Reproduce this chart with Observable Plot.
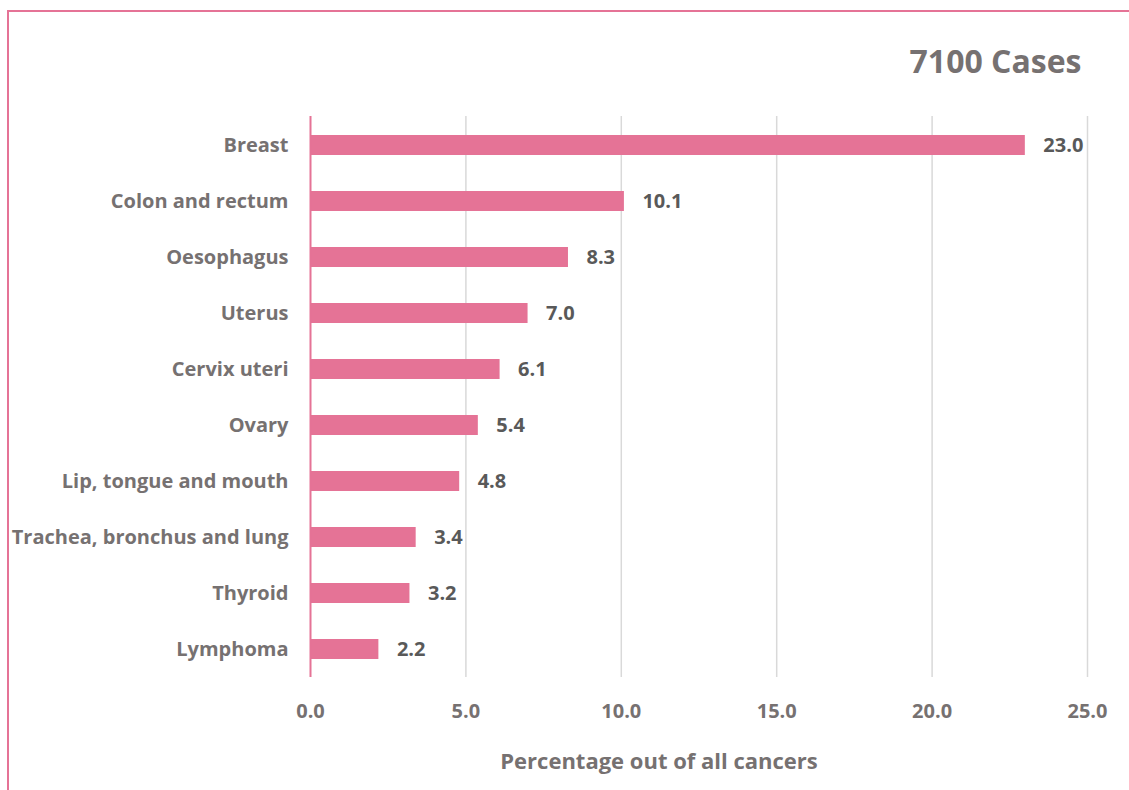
<!DOCTYPE html>
<html>
<head>
<meta charset="utf-8">
<script src="https://cdn.jsdelivr.net/npm/d3@7"></script>
<script src="https://cdn.jsdelivr.net/npm/@observablehq/plot@0.6"></script>
<style>
  html, body { margin: 0; padding: 0; background: #fff; }
  #wrap { position: relative; width: 1129px; height: 790px; overflow: hidden; }
  #frame { position: absolute; left: 7px; top: 10px; right: -10px; bottom: -10px;
           border-top: 2px solid #E57396; border-left: 2px solid #E57396; pointer-events: none; }
  #chart { position: absolute; left: 0; top: 0; }
</style>
</head>
<body>
<div id="wrap"><div id="chart"></div><div id="frame"></div></div>
<script>
const categories = ["Breast", "Colon and rectum", "Oesophagus", "Uterus", "Cervix uteri", "Ovary",
  "Lip, tongue and mouth", "Trachea, bronchus and lung", "Thyroid", "Lymphoma"];
const values = [23.0, 10.1, 8.3, 7.0, 6.1, 5.4, 4.8, 3.4, 3.2, 2.2];
const xTicks = [0, 5, 10, 15, 20, 25];
const titleText = "7100 Cases";
const xLabel = "Percentage out of all cancers";

const data = categories.map((c, i) => ({category: c, value: values[i]}));
const font = "'Open Sans', Lato, sans-serif";
const pink = "#E57396";

const chart = Plot.plot({
  width: 1129,
  height: 790,
  marginLeft: 310,
  marginRight: 42,
  marginTop: 116,
  marginBottom: 113,
  style: {fontFamily: font, background: "transparent"},
  x: {domain: [0, 25], ticks: xTicks},
  y: {domain: categories, paddingInner: 0.65, paddingOuter: 0.325},
  marks: [
    Plot.ruleX(xTicks.filter(d => d > 0), {stroke: "#D9D9D9", strokeWidth: 1.5}),
    Plot.barX(data, {x: "value", y: "category", fill: pink}),
    Plot.ruleX([0], {stroke: pink, strokeWidth: 2}),
    Plot.text(data, {x: "value", y: "category", text: d => d.value.toFixed(1), textAnchor: "start",
      dx: 18, fill: "#595959", fontSize: 20, fontWeight: "bold"}),
    Plot.axisY({tickSize: 0, tickPadding: 22, fontSize: 20, fontWeight: "bold", color: "#767171", label: null}),
    Plot.axisX({ticks: xTicks, tickSize: 0, tickPadding: 26, fontSize: 20, fontWeight: "bold",
      color: "#767171", tickFormat: d => d.toFixed(1), label: null}),
    Plot.text([xLabel], {frameAnchor: "bottom", dx: -40, dy: 91, fill: "#767171", fontSize: 22, fontWeight: "bold"}),
    Plot.text([titleText], {frameAnchor: "top-right", dx: -6, dy: -66, fill: "#767171", fontSize: 32, fontWeight: "bold", textAnchor: "end"})
  ]
});
document.getElementById("chart").appendChild(chart);
</script>
</body>
</html>
